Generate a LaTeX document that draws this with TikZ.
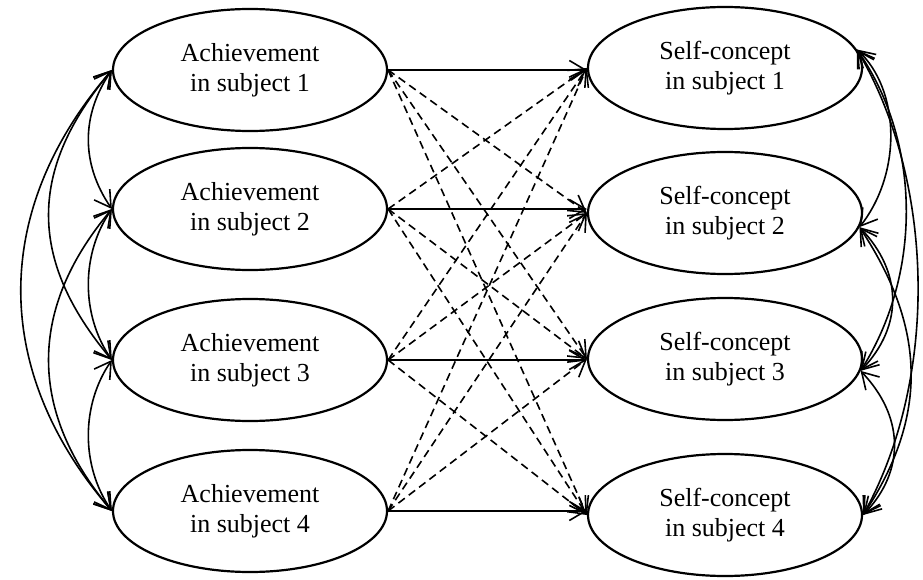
\documentclass[tikz,border=0pt]{standalone}
\usepackage{fontspec}
\setmainfont{Liberation Serif}
\usetikzlibrary{shapes.geometric,arrows.meta}
\begin{document}
\begin{tikzpicture}[x=1pt,y=1pt,
  var/.style={ellipse,draw,line width=2.2pt,minimum width=274pt,minimum height=122pt,
    inner sep=0pt,align=center,font=\fontsize{26}{30}\selectfont},
  link/.style={line width=1.6pt,-{Straight Barb[length=16pt,width=19pt]}},
  cross/.style={link,dash pattern=on 8pt off 5pt},
  cov/.style={line width=1.6pt,{Straight Barb[length=16pt,width=19pt]}-{Straight Barb[length=16pt,width=19pt]}}]
\useasboundingbox (0,0) rectangle (923,-580);

\node[var] (A1) at (250,-70)  {Achievement\\in subject 1};
\node[var] (A2) at (250,-209) {Achievement\\in subject 2};
\node[var] (A3) at (250,-360) {Achievement\\in subject 3};
\node[var] (A4) at (250,-511) {Achievement\\in subject 4};

\node[var] (S1) at (725,-68)  {Self-concept\\in subject 1};
\node[var] (S2) at (725,-213) {Self-concept\\in subject 2};
\node[var] (S3) at (725,-359) {Self-concept\\in subject 3};
\node[var] (S4) at (725,-515) {Self-concept\\in subject 4};

% horizontal paths
\foreach \i in {1,2,3,4}
  \draw[link] (A\i.east) -- (A\i.east -| S\i.west);

% cross paths
\foreach \i/\j in {1/2,1/3,1/4,2/1,2/3,2/4,3/1,3/2,3/4,4/1,4/2,4/3}
  \draw[cross] (A\i.east) -- (S\j.west);

% left correlations
\draw[cov] (A1.west) .. controls +(-31,-45) and +(-31,45) .. (A2.west);
\draw[cov] (A2.west) .. controls +(-31,-45) and +(-31,45) .. (A3.west);
\draw[cov] (A3.west) .. controls +(-31,-45) and +(-31,45) .. (A4.west);
\draw[cov] (A1.west) .. controls +(-84,-100) and +(-84,100) .. (A3.west);
\draw[cov] (A2.west) .. controls +(-84,-100) and +(-84,100) .. (A4.west);
\draw[cov] (A1.west) .. controls +(-121,-140) and +(-121,140) .. (A4.west);

% right correlations
\coordinate (s1) at (S1.8);
\coordinate (s2) at (S2.-6);
\coordinate (s3) at (S3.-5);
\coordinate (s4) at (S4.east);
\draw[cov] (s1) .. controls +(43,-40) and +(43,55) .. (s2);
\draw[cov] (s2) .. controls +(43,-45) and +(43,45) .. (s3);
\draw[cov] (s3) .. controls +(43,-45) and +(43,45) .. (s4);
\draw[cov] (s1) .. controls +(63,-90) and +(63,100) .. (s3);
\draw[cov] (s2) .. controls +(66,-100) and +(66,100) .. (s4);
\draw[cov] (s1) .. controls +(77,-130) and +(77,140) .. (s4);
\end{tikzpicture}
\end{document}
